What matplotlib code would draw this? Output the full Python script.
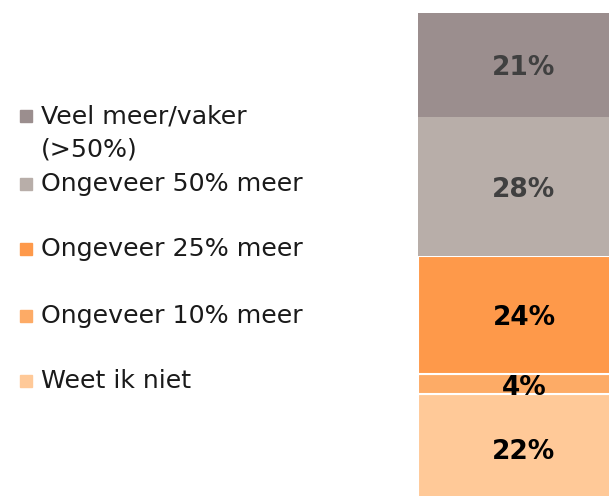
import matplotlib.pyplot as plt
from matplotlib.patches import Rectangle

# data, bottom of the bar first
categories = ['Weet ik niet', 'Ongeveer 10% meer', 'Ongeveer 25% meer',
              'Ongeveer 50% meer', 'Veel meer/vaker\n(>50%)']
values = [22, 4, 24, 28, 21]
colors = ['#FFC998', '#FDAB66', '#FE994A', '#B8AEA9', '#9B8E8E']
label_colors = ['black', 'black', 'black', '#404040', '#404040']
edge_colors = ['white', 'white', 'white', 'none', 'none']

W, H = 609, 496
fig = plt.figure(figsize=(W / 100, H / 100), dpi=100)
ax = fig.add_axes([0, 0, 1, 1])
ax.axis('off')

bottom = 0
for cat, v, c, lc, ec in zip(categories, values, colors, label_colors, edge_colors):
    ax.bar(0, v, width=1, bottom=bottom, color=c, edgecolor=ec, linewidth=1.5)
    ax.text(0, bottom + v / 2 - 0.7, '%d%%' % v, ha='center', va='center',
            fontsize=19, fontweight='bold', color=lc, family='DejaVu Sans')
    bottom += v

# bar spans px 418..630 horizontally, 0% sits just below the figure edge
px_per_pct = 490 / 99
ax.set_ylim(7 / px_per_pct, 503 / px_per_pct)
ax.set_xlim(-0.5 - 418 / 212, 0.5 - 21 / 212)

# legend, drawn top to bottom
ys = [116, 184, 249, 316, 381]
for i, (cat, c) in enumerate(zip(categories[::-1], colors[::-1])):
    y = ys[i]
    fig.patches.append(Rectangle((20 / W, 1 - (y + 6) / H), 12 / W, 12 / H,
                                 transform=fig.transFigure, color=c))
    for j, line in enumerate(cat.split('\n')):
        fig.text(41 / W, 1 - (y + 33 * j) / H, line, ha='left', va='center',
                 fontsize=18.2, color='#1a1a1a', transform=fig.transFigure)

plt.savefig('out.png', dpi=100)
